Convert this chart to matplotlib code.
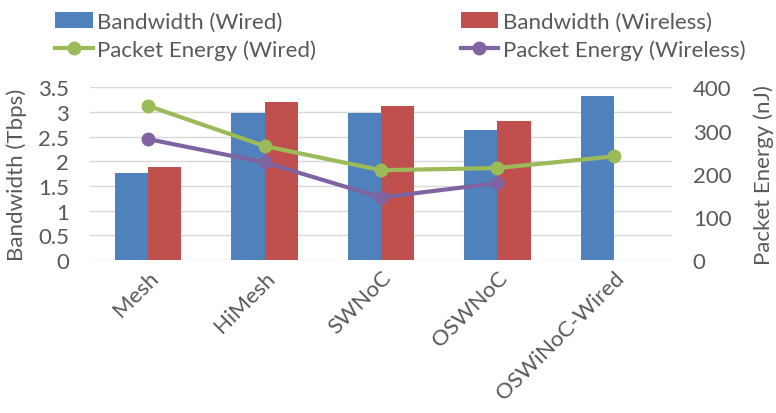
import numpy as np
import matplotlib.pyplot as plt

plt.rcParams['font.family'] = ['Lato', 'DejaVu Sans']

categories = ["Mesh", "HiMesh", "SWNoC", "OSWNoC", "OSWiNoC-Wired"]
bw_wired = [1.76, 2.97, 2.99, 2.64, 3.32]
bw_wireless = [1.89, 3.20, 3.12, 2.81, np.nan]
pe_wired = [357, 264, 208, 213, 240]
pe_wireless = [280, 226, 145, 178, np.nan]

blue = "#4F81BD"
red = "#C0504D"
green = "#9BBB59"
purple = "#8064A2"
text_col = "#595959"
fs = 16

fig = plt.figure(figsize=(7.76, 4.14), dpi=100)
ax = fig.add_axes([0.116, 0.3696, 0.75, 0.417])
ax2 = ax.twinx()

x = np.arange(len(categories))
w = 0.285
b1 = ax.bar(x - w / 2, bw_wired, w, color=blue, label="Bandwidth (Wired)", zorder=2)
b2 = ax.bar(x + w / 2, bw_wireless, w, color=red, label="Bandwidth (Wireless)", zorder=2)
l1, = ax2.plot(x, pe_wired, color=green, lw=3, marker="o", ms=9, label="Packet Energy (Wired)")
l2, = ax2.plot(x, pe_wireless, color=purple, lw=3, marker="o", ms=9, label="Packet Energy (Wireless)")

ax.set_xlim(-0.5, len(categories) - 0.5)
ax.set_ylim(0, 3.5)
ax.set_yticks(np.arange(0, 3.51, 0.5))
ax.set_yticklabels(["0", "0.5", "1", "1.5", "2", "2.5", "3", "3.5"])
ax2.set_ylim(0, 400)
ax2.set_yticks(range(0, 401, 100))

ax.grid(axis="y", color="#D9D9D9", lw=1, zorder=0)
ax.set_axisbelow(True)
for a in (ax, ax2):
    for s in a.spines.values():
        s.set_visible(False)
    a.tick_params(length=0, labelsize=fs, colors=text_col)
ax.tick_params(axis="y", pad=15)
ax2.tick_params(axis="y", pad=15)

ax.set_xticks(x)
ax.set_xticklabels(categories, rotation=45, ha="right", rotation_mode="anchor")
ax.tick_params(axis="x", pad=5)

ax.set_ylabel("Bandwidth (Tbps)", fontsize=fs, color=text_col, labelpad=8)
ax2.set_ylabel("Packet Energy (nJ)", fontsize=fs, color=text_col, labelpad=16)

fig.legend(handles=[b1, l1, b2, l2], loc="upper left", bbox_to_anchor=(0.045, 1.017),
           ncol=2, frameon=False, fontsize=fs, labelcolor=text_col,
           handlelength=1.7, handletextpad=0.2, columnspacing=6.5, labelspacing=0.32)

fig.savefig("out.png", dpi=100)
